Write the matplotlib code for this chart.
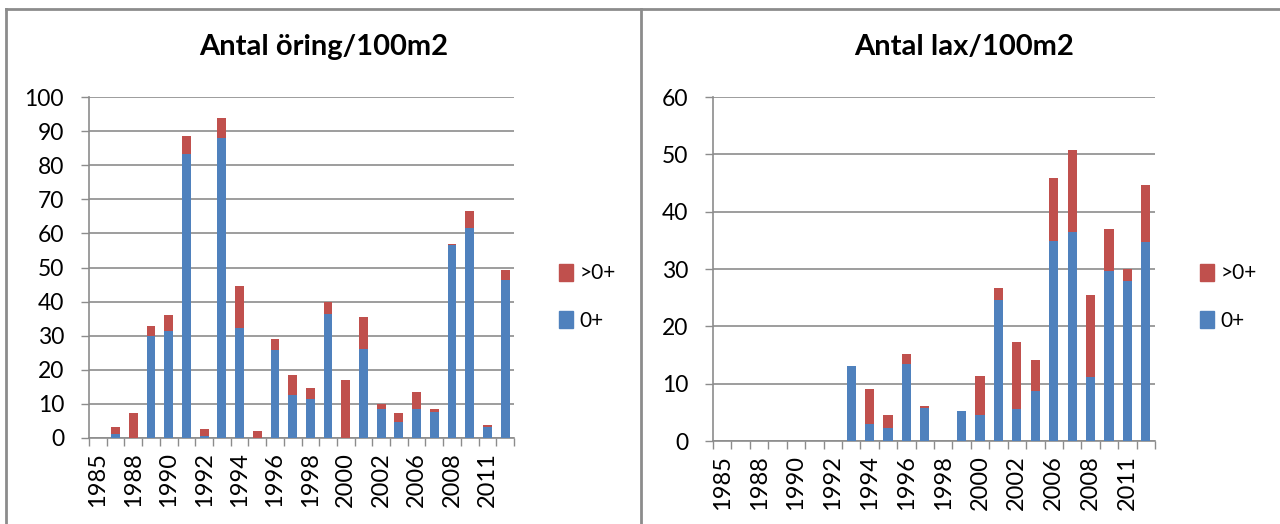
"""
Electrofishing density chart: trout (öring) and salmon (lax) per 100 m2,
split into young of the year (0+) and older fish (>0+).
"""

import matplotlib
matplotlib.use("Agg")
import matplotlib.pyplot as plt
from matplotlib.lines import Line2D
from matplotlib.patches import Patch

# Survey years (category axis; every other label is shown like in Excel)
years = ["1985", "1987", "1988", "1989", "1990", "1991", "1992", "1993",
         "1994", "1995", "1996", "1997", "1998", "1999", "2000", "2001",
         "2002", "2004", "2006", "2007", "2008", "2009", "2011", "2012"]

# Trout (öring) per 100 m2
oring_0 = [0, 1.3, 0, 29.8, 31.3, 83.3, 0.6, 87.9, 32.4, 0, 25.7, 12.6,
           11.4, 36.5, 0, 26.1, 8.5, 4.6, 8.5, 7.7, 56.7, 61.6, 3.2, 46.3]
oring_older = [0, 1.9, 7.3, 2.9, 4.8, 5.3, 2.1, 5.9, 12.3, 2.1, 3.3, 6.0,
               3.4, 3.4, 17.1, 9.3, 1.5, 2.7, 5.1, 0.7, 0.3, 4.9, 0.6, 2.9]

# Salmon (lax) per 100 m2
lax_0 = [0, 0, 0, 0, 0, 0, 0, 13.0, 3.0, 2.3, 13.5, 5.7,
         0, 5.2, 4.5, 24.6, 5.6, 8.8, 34.9, 36.5, 11.1, 29.7, 27.9, 34.7]
lax_older = [0, 0, 0, 0, 0, 0, 0, 0, 6.0, 2.2, 1.6, 0.4,
             0, 0, 6.8, 2.1, 11.7, 5.4, 10.9, 14.2, 14.4, 7.2, 2.1, 10.0]

BLUE = "#4F81BD"
RED = "#C0504D"
GRID = "#8C8C8C"
W, H = 1280, 524


def px_box(left, top, right, bottom):
    """Convert a pixel box (from top-left) into figure fractions."""
    return [left / W, 1 - bottom / H, (right - left) / W, (bottom - top) / H]


def draw_panel(fig, box, young, older, ymax, title, title_x):
    ax = fig.add_axes(px_box(*box))
    x = list(range(len(years)))

    ax.bar(x, young, width=0.5, color=BLUE, zorder=3)
    ax.bar(x, older, width=0.5, bottom=young, color=RED, zorder=3)

    ax.set_xlim(-0.5, len(years) - 0.5)
    ax.set_ylim(0, ymax)
    ax.set_yticks(range(0, ymax + 1, 10))

    # labels on every other category, tick marks between categories
    ax.set_xticks(x)
    ax.set_xticklabels([y if i % 2 == 0 else "" for i, y in enumerate(years)],
                       rotation=90)
    ax.set_xticks([i - 0.5 for i in range(len(years) + 1)], minor=True)
    ax.tick_params(axis="x", which="major", length=0, pad=10, labelsize=17)
    ax.tick_params(axis="x", which="minor", length=6, color=GRID, width=1)
    ax.tick_params(axis="y", length=6, color=GRID, width=1, labelsize=16.5, pad=12)

    ax.yaxis.grid(True, color=GRID, linewidth=1.2, zorder=0)
    for side in ["top", "right"]:
        ax.spines[side].set_visible(False)
    for side in ["left", "bottom"]:
        ax.spines[side].set_color(GRID)
        ax.spines[side].set_linewidth(1.2)

    fig.text(title_x / W, 1 - 47 / H, title, ha="center", va="center",
             fontsize=21, fontweight="bold")

    handles = [Patch(color=RED, label=">0+"), Patch(color=BLUE, label="0+")]
    fig.legend(handles=handles, loc="center left",
               bbox_to_anchor=((box[2] + 26) / W, 1 - 297 / H),
               frameon=False, fontsize=15, handlelength=0.7, handleheight=0.9,
               handletextpad=0.3, labelspacing=1.3)
    return ax


def main():
    plt.rcParams["font.family"] = ["Lato", "DejaVu Sans"]
    fig = plt.figure(figsize=(W / 100, H / 100), dpi=100)

    # chart frames
    for xs, ys in [((6, 6), (9, 524)), ((6, 1280), (9, 9)), ((641, 641), (9, 524))]:
        fig.add_artist(Line2D([v / W for v in xs], [1 - v / H for v in ys],
                              color="#8C8C8C", linewidth=2))

    draw_panel(fig, (89, 97, 514, 438), oring_0, oring_older, 100,
               "Antal öring/100m2", 324)
    draw_panel(fig, (713, 97, 1155, 441), lax_0, lax_older, 60,
               "Antal lax/100m2", 964)

    fig.savefig("out.png", dpi=100)


if __name__ == "__main__":
    main()
